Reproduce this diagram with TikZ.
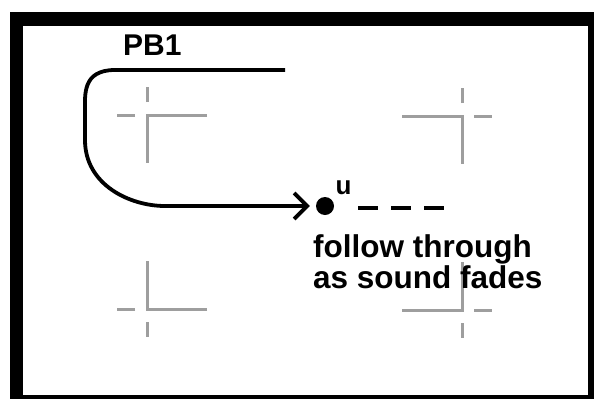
\documentclass[tikz,border=0pt]{standalone}
\usepackage{fontspec}
\setmainfont{Liberation Sans}
\usetikzlibrary{positioning,arrows.meta}

\begin{document}
\begin{tikzpicture}[x=1pt,y=-1pt,>={Straight Barb[length=13pt,width=26pt]},
	cross/.style={draw=black!38, line width=3pt},
	lbl/.style={font=\fontsize{31.5}{31}\selectfont\bfseries, inner sep=0pt, align=left}]
	\useasboundingbox (0,0) rectangle (594,399);
	% frame
	\fill (10,12) rectangle (594,399);
	\fill[white] (23,26) rectangle (588,395);
	% grey marks
	\foreach \cx/\cy/\sx/\sy in {147/115/1/1, 462/116/-1/1, 147/309/1/-1, 462/310/-1/-1}
	{
		\draw[cross] (\cx+60*\sx,\cy) -- (\cx,\cy) -- (\cx,\cy+48*\sy);
		\draw[cross] (\cx-12*\sx,\cy) -- (\cx-30*\sx,\cy);
		\draw[cross] (\cx,\cy-13*\sy) -- (\cx,\cy-28*\sy);
	}
	\node (pb) [lbl, font=\fontsize{30}{31}\selectfont\bfseries, anchor=north west] at (123,35) {PB1};
	\node (u) at (325,206) [circle, fill, inner sep=0pt, minimum size=18pt] {};
	\node (ulbl) [lbl, font=\fontsize{26}{28}\selectfont\bfseries, anchor=south west] at ([xshift=4pt,yshift=5pt]u.north east) {u};
	\node (fade) [lbl, anchor=north west] at (313,234) {follow through\\as sound fades};
	\coordinate (start) at (285,70);
	\coordinate (fadeend) at (444,208);
	\draw [->, line width=3.8pt, shorten >=6pt] (start) -- (115,70) .. controls (82,70) and (85,95) .. (85,112) -- (85,140) .. controls (85,185) and (130,206) .. (165,206) -- (u);
	\draw [line width=4pt, dash pattern=on 20pt off 13pt] ([xshift=24pt,yshift=-2pt]u.east) -- (fadeend);
\end{tikzpicture}
\end{document}
